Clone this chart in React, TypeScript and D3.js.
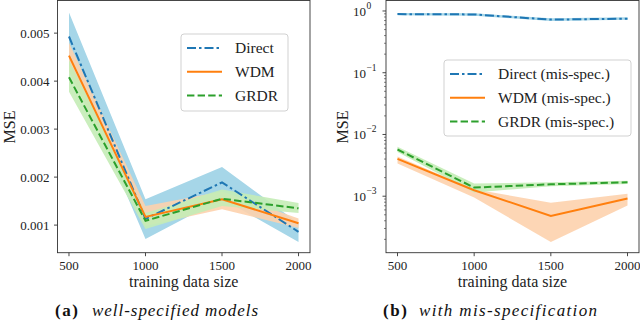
import React from "react";
import * as d3 from "d3";

// training sizes
const sizes = [500, 1000, 1500, 2000];

// (a) well-specified models
const directA = [0.00493, 0.00113, 0.00189, 0.00086];
const directALo = [0.00445, 0.00071, 0.00155, 0.00065];
const directAHi = [0.00543, 0.00154, 0.00221, 0.00104];
const wdmA = [0.00453, 0.00117, 0.00154, 0.00104];
const wdmALo = [0.0042, 0.00098, 0.00133, 0.00094];
const wdmAHi = [0.0048, 0.0014, 0.0017, 0.00114];
const grdrA = [0.00408, 0.00109, 0.00155, 0.00135];
const grdrALo = [0.00378, 0.00092, 0.0014, 0.00125];
const grdrAHi = [0.00444, 0.00125, 0.00174, 0.00146];

// (b) with mis-specification
const directB = [0.89, 0.88, 0.725, 0.752];
const directBLo = [0.85, 0.84, 0.69, 0.72];
const directBHi = [0.93, 0.92, 0.76, 0.79];
const wdmB = [0.00403, 0.00125, 0.00048, 0.00092];
const wdmBLo = [0.0034, 0.00095, 0.000181, 0.00071];
const wdmBHi = [0.0044, 0.0013, 0.00078, 0.0011];
const grdrB = [0.00571, 0.00138, 0.00156, 0.00168];
const grdrBLo = [0.0052, 0.00115, 0.00145, 0.00158];
const grdrBHi = [0.0063, 0.0016, 0.00168, 0.00178];

const ticksA = [0.001, 0.002, 0.003, 0.004, 0.005];
const ticksB = [-3, -2, -1, 0];

const blue = "#1f77b4";
const orange = "#ff7f0e";
const green = "#2ca02c";
const font = "Liberation Serif, Times New Roman, DejaVu Serif, serif";

const top = 0.5;
const bottom = 252.7;

type Series = {
  name: string;
  color: string;
  dash: string;
  band: string;
  bandOpacity: number;
  mid: number[];
  lo: number[];
  hi: number[];
};

const dashDirect = "9,3,2.5,3";
const dashGrdr = "7.4,3.2";

function Panel(props: {
  left: number;
  right: number;
  y: any;
  series: Series[];
  log?: boolean;
  legend: { x: number; y: number; w: number; h: number; labels: string[] };
}) {
  const { left, right, y, series, log, legend } = props;
  const x = d3.scaleLinear().domain([425, 2075]).range([left, right]);
  const line = d3
    .line<number>()
    .x((_, i) => x(sizes[i]))
    .y((d) => y(d));
  const area = (lo: number[], hi: number[]) =>
    d3
      .area<number>()
      .x((_, i) => x(sizes[i]))
      .y0((_, i) => y(lo[i]))
      .y1((_, i) => y(hi[i]))(lo);

  const minor: number[] = [];
  if (log) {
    const [d0, d1] = y.domain();
    for (let e = -4; e <= 0; e++) {
      for (let k = 2; k <= 9; k++) {
        const v = k * Math.pow(10, e);
        if (v >= d0 && v <= d1) minor.push(v);
      }
    }
  }

  return (
    <g>
      <defs>
        <clipPath id={"clip" + left}>
          <rect x={left} y={top} width={right - left} height={bottom - top} />
        </clipPath>
      </defs>
      <g clipPath={`url(#clip${left})`}>
        {series.map((s) => (
          <path key={s.name + "b"} d={area(s.lo, s.hi) || ""} fill={s.band} opacity={s.bandOpacity} />
        ))}
        {series.map((s) => (
          <path
            key={s.name}
            d={line(s.mid) || ""}
            fill="none"
            stroke={s.color}
            strokeWidth={2}
            strokeDasharray={s.dash}
          />
        ))}
      </g>
      <rect x={left} y={top} width={right - left} height={bottom - top} fill="none" stroke="#333" strokeWidth={0.9} />
      {/* x axis */}
      {sizes.map((t) => (
        <g key={t}>
          <line x1={x(t)} x2={x(t)} y1={bottom} y2={bottom + 3.5} stroke="#333" strokeWidth={0.9} />
          <text x={x(t)} y={270} textAnchor="middle" fontSize={13}>
            {t}
          </text>
        </g>
      ))}
      <text x={(left + right) / 2} y={287} textAnchor="middle" fontSize={16}>
        training data size
      </text>
      {/* y axis */}
      {!log &&
        ticksA.map((t) => (
          <g key={t}>
            <line x1={left - 3.5} x2={left} y1={y(t)} y2={y(t)} stroke="#333" strokeWidth={0.9} />
            <text x={left - 8} y={y(t) + 4.5} textAnchor="end" fontSize={13}>
              {d3.format(".3f")(t)}
            </text>
          </g>
        ))}
      {log &&
        minor.map((t) => (
          <line key={t} x1={left - 2} x2={left} y1={y(t)} y2={y(t)} stroke="#333" strokeWidth={0.6} />
        ))}
      {log &&
        ticksB.map((e) => (
          <g key={e}>
            <line x1={left - 3.5} x2={left} y1={y(Math.pow(10, e))} y2={y(Math.pow(10, e))} stroke="#333" strokeWidth={0.9} />
            <text x={left - 20} y={y(Math.pow(10, e)) + 5} textAnchor="end" fontSize={13}>
              10
            </text>
            <text x={left - 19.5} y={y(Math.pow(10, e)) - 2} textAnchor="start" fontSize={9.5}>
              {e === 0 ? "0" : "\u2212" + -e}
            </text>
          </g>
        ))}
      <text
        transform={`translate(${left - (log ? 38 : 43)},127) rotate(-90)`}
        textAnchor="middle"
        fontSize={16}
      >
        MSE
      </text>
      {/* legend */}
      <rect
        x={legend.x}
        y={legend.y}
        width={legend.w}
        height={legend.h}
        rx={3}
        fill="white"
        fillOpacity={0.8}
        stroke="#ccc"
        strokeWidth={0.9}
      />
      {series.map((s, i) => {
        const ly = legend.y + 14 + i * 23.8;
        return (
          <g key={s.name + "l"}>
            <line
              x1={legend.x + 6}
              x2={legend.x + 41}
              y1={ly}
              y2={ly}
              stroke={s.color}
              strokeWidth={2}
              strokeDasharray={s.dash}
            />
            <text x={legend.x + 54} y={ly + 5} fontSize={15.5}>
              {legend.labels[i]}
            </text>
          </g>
        );
      })}
    </g>
  );
}

export default function App() {
  const yA = d3.scaleLinear().domain([0.000425, 0.00568]).range([bottom, top]);
  const yB = d3.scaleLog().domain([Math.pow(10, -3.915), Math.pow(10, 0.17)]).range([bottom, top]);

  const seriesA: Series[] = [
    { name: "Direct", color: blue, dash: dashDirect, band: "#a6d6e8", bandOpacity: 1, mid: directA, lo: directALo, hi: directAHi },
    { name: "WDM", color: orange, dash: "none", band: "#fdd2ad", bandOpacity: 0.9, mid: wdmA, lo: wdmALo, hi: wdmAHi },
    { name: "GRDR", color: green, dash: dashGrdr, band: "#c4ecb6", bandOpacity: 0.9, mid: grdrA, lo: grdrALo, hi: grdrAHi },
  ];
  const seriesB: Series[] = [
    { name: "Direct", color: blue, dash: dashDirect, band: "#a6d6e8", bandOpacity: 1, mid: directB, lo: directBLo, hi: directBHi },
    { name: "WDM", color: orange, dash: "none", band: "#fdd2ad", bandOpacity: 0.9, mid: wdmB, lo: wdmBLo, hi: wdmBHi },
    { name: "GRDR", color: green, dash: dashGrdr, band: "#c4ecb6", bandOpacity: 0.9, mid: grdrB, lo: grdrBLo, hi: grdrBHi },
  ];

  return (
    <div style={{ position: "fixed", left: 0, top: 0 }}>
      <svg
        width={640}
        height={320}
        style={{ display: "block", background: "white", fontFamily: font, fill: "#222" }}
      >
        <Panel
          left={57.5}
          right={310}
          y={yA}
          series={seriesA}
          legend={{ x: 181, y: 34, w: 107, h: 77, labels: ["Direct", "WDM", "GRDR"] }}
        />
        <Panel
          left={386}
          right={639}
          y={yB}
          series={seriesB}
          log
          legend={{ x: 444, y: 60, w: 187, h: 76, labels: ["Direct (mis-spec.)", "WDM (mis-spec.)", "GRDR (mis-spec.)"] }}
        />
        <text x={55} y={316} fontSize={17} fontWeight="bold" fill="#111" textLength={23} lengthAdjust="spacing">
          (a)
        </text>
        <text x={92} y={316} fontSize={17} fontStyle="italic" fill="#111" textLength={166} lengthAdjust="spacing">
          well-specified models
        </text>
        <text x={383} y={316} fontSize={17} fontWeight="bold" fill="#111" textLength={24} lengthAdjust="spacing">
          (b)
        </text>
        <text x={419} y={316} fontSize={17} fontStyle="italic" fill="#111" textLength={178} lengthAdjust="spacing">
          with mis-specification
        </text>
      </svg>
    </div>
  );
}
